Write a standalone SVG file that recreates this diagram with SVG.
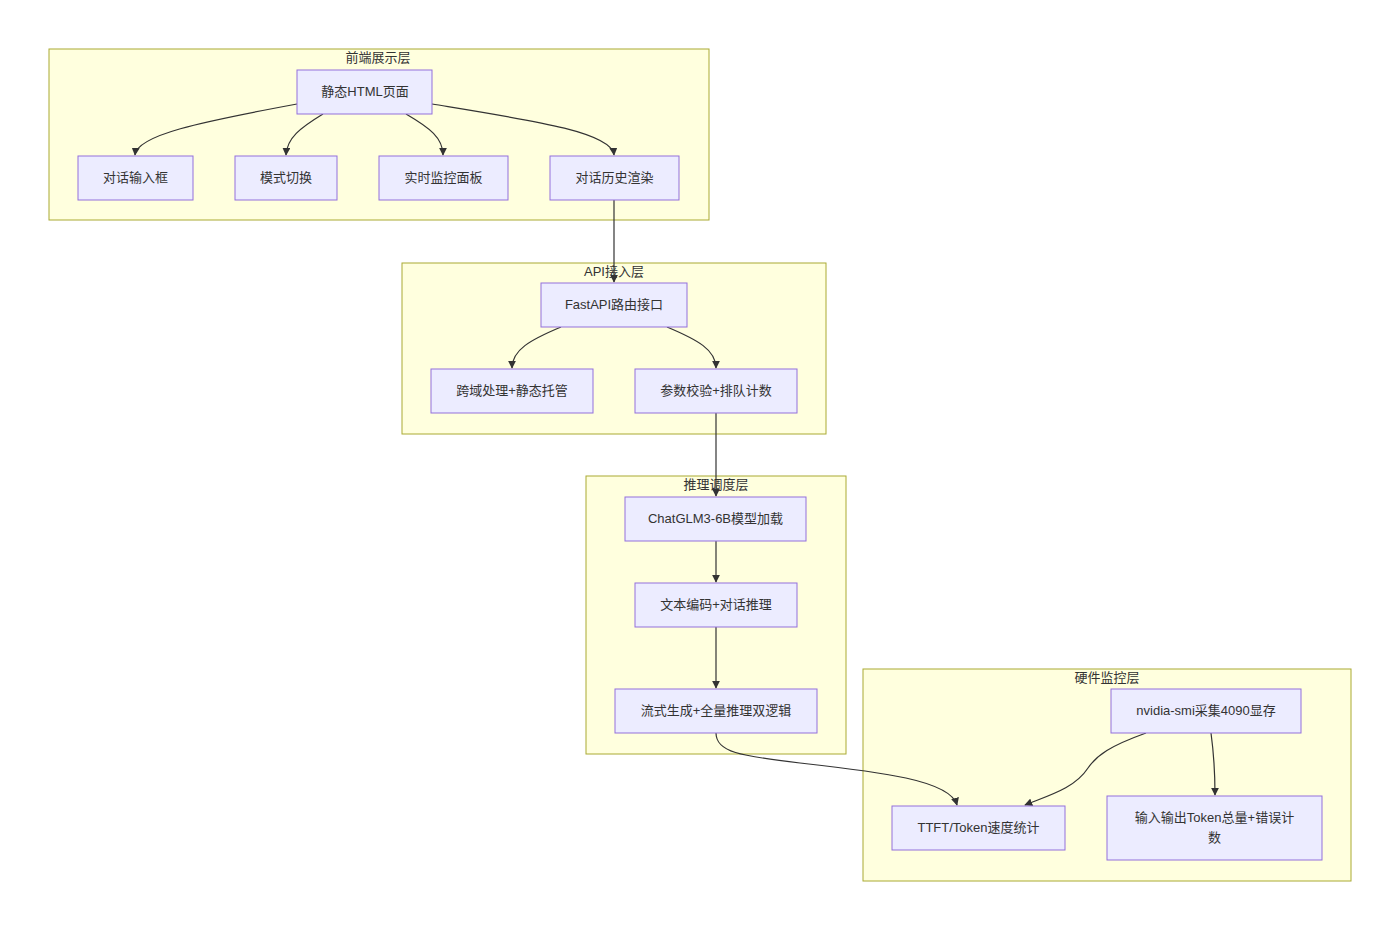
<svg xmlns="http://www.w3.org/2000/svg" width="1400" height="930" viewBox="0 0 1400 930">
<style>
.cluster rect{fill:#ffffde;stroke:#aaaa33;stroke-width:1}
.node rect{fill:#ececff;stroke:#9370db;stroke-width:1}
text{font-family:"Liberation Sans","Noto Sans CJK SC",sans-serif;font-size:13px;fill:#333333;text-anchor:middle;dominant-baseline:central}
.edge{fill:none;stroke:#333333;stroke-width:1.2}
</style>
<defs>
<marker id="arrow" viewBox="0 0 10 10" refX="9" refY="5" markerWidth="8" markerHeight="8" markerUnits="userSpaceOnUse" orient="auto">
<path d="M0,0 L10,5 L0,10 z" fill="#333333"/>
</marker>
</defs>
<rect width="1400" height="930" fill="#ffffff"/>
<g id="cluster-frontend" class="cluster"><rect x="49" y="49" width="660" height="171"/><text x="378" y="57">前端展示层</text></g>
<g id="cluster-api" class="cluster"><rect x="402" y="263" width="424" height="171"/><text x="614" y="271">API接入层</text></g>
<g id="cluster-infer" class="cluster"><rect x="586" y="476" width="260" height="278"/><text x="716" y="484">推理调度层</text></g>
<g id="cluster-hw" class="cluster"><rect x="863" y="669" width="488" height="212"/><text x="1107" y="677">硬件监控层</text></g>

<g id="edges">
<path class="edge" d="M297,104 C200,122 137,135 135,155" marker-end="url(#arrow)"/>
<path class="edge" d="M323,114 C300,128 287,138 286,155" marker-end="url(#arrow)"/>
<path class="edge" d="M406,114 C430,128 443,138 443,155" marker-end="url(#arrow)"/>
<path class="edge" d="M432,104 C530,120 612,132 614,155" marker-end="url(#arrow)"/>
<path class="edge" d="M614,200 L614,282" marker-end="url(#arrow)"/>
<path class="edge" d="M561,327 C530,340 512,350 512,368" marker-end="url(#arrow)"/>
<path class="edge" d="M667,327 C698,340 716,350 716,368" marker-end="url(#arrow)"/>
<path class="edge" d="M716,413 L716,496" marker-end="url(#arrow)"/>
<path class="edge" d="M716,541 L716,582" marker-end="url(#arrow)"/>
<path class="edge" d="M716,627 L716,688" marker-end="url(#arrow)"/>
<path class="edge" d="M716,733 C716,752 740,756 800,763 C880,772 950,780 957,805" marker-end="url(#arrow)"/>
<path class="edge" d="M1146,733 C1110,746 1097,755 1088,768 C1075,788 1050,795 1025,805" marker-end="url(#arrow)"/>
<path class="edge" d="M1211,733 C1214,755 1215,775 1215,795" marker-end="url(#arrow)"/>
</g>

<g id="n-html" class="node"><rect x="297" y="70" width="135" height="44"/><text x="365" y="91">静态HTML页面</text></g>
<g id="n-input" class="node"><rect x="78" y="156" width="115" height="44"/><text x="135.5" y="177">对话输入框</text></g>
<g id="n-mode" class="node"><rect x="235" y="156" width="102" height="44"/><text x="286" y="177">模式切换</text></g>
<g id="n-monitor" class="node"><rect x="379" y="156" width="129" height="44"/><text x="443.5" y="177">实时监控面板</text></g>
<g id="n-history" class="node"><rect x="550" y="156" width="129" height="44"/><text x="614.5" y="177">对话历史渲染</text></g>

<g id="n-fastapi" class="node"><rect x="541" y="283" width="146" height="44"/><text x="614" y="304">FastAPI路由接口</text></g>
<g id="n-cors" class="node"><rect x="431" y="369" width="162" height="44"/><text x="512" y="390">跨域处理+静态托管</text></g>
<g id="n-param" class="node"><rect x="635" y="369" width="162" height="44"/><text x="716" y="390">参数校验+排队计数</text></g>

<g id="n-chatglm" class="node"><rect x="625" y="497" width="181" height="44"/><text x="715.5" y="518">ChatGLM3-6B模型加载</text></g>
<g id="n-encode" class="node"><rect x="635" y="583" width="162" height="44"/><text x="716" y="604">文本编码+对话推理</text></g>
<g id="n-stream" class="node"><rect x="615" y="689" width="202" height="44"/><text x="716" y="710">流式生成+全量推理双逻辑</text></g>

<g id="n-nvidia" class="node"><rect x="1111" y="689" width="190" height="44"/><text x="1206" y="710">nvidia-smi采集4090显存</text></g>
<g id="n-ttft" class="node"><rect x="892" y="806" width="173" height="44"/><text x="978.5" y="827">TTFT/Token速度统计</text></g>
<g id="n-tokens" class="node"><rect x="1107" y="796" width="215" height="64"/><text x="1214.5" y="817">输入输出Token总量+错误计</text><text x="1214.5" y="837">数</text></g>
</svg>
